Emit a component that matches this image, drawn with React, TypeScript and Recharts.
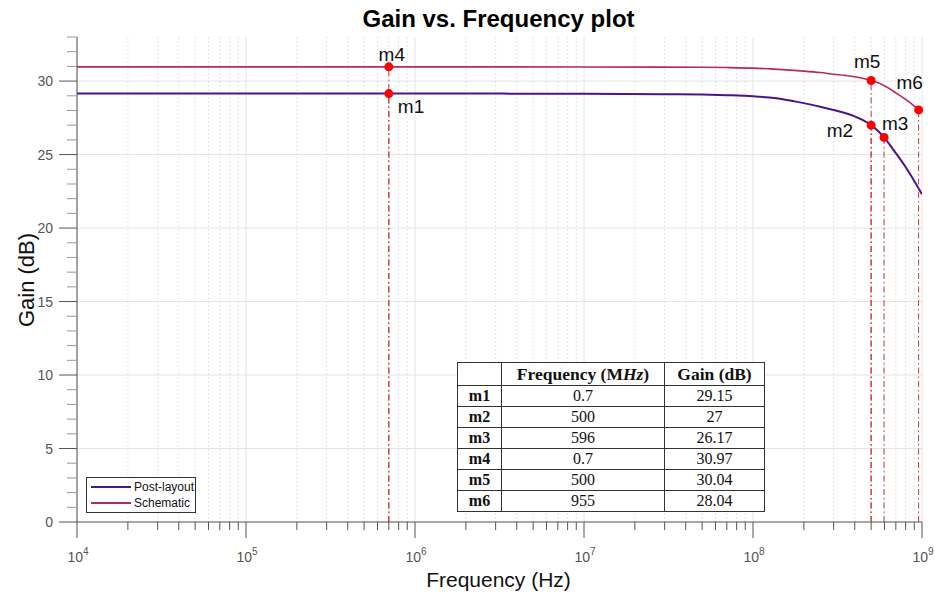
import React from "react";
import {
  CartesianGrid,
  Line,
  LineChart,
  ReferenceDot,
  ReferenceLine,
  XAxis,
  YAxis,
} from "recharts";

// Post-layout gain curve (Hz, dB)
const POST_FREQ = [1e4, 1e5, 7e5, 1e6, 1e7, 3e7, 5e7, 7e7, 1e8, 1.25e8, 1.5e8, 2e8, 2.5e8, 3e8, 3.5e8, 4e8, 4.5e8, 5e8, 5.5e8, 5.96e8, 7e8, 8e8, 9e8, 1e9];
const POST_GAIN = [29.15, 29.15, 29.15, 29.15, 29.14, 29.11, 29.08, 29.04, 28.97, 28.88, 28.77, 28.5, 28.25, 28.03, 27.83, 27.6, 27.32, 27.0, 26.6, 26.17, 25.1, 24.15, 23.2, 22.3];

// Schematic gain curve (Hz, dB)
const SCHEM_FREQ = [1e4, 1e5, 7e5, 1e6, 1e7, 5e7, 7e7, 1e8, 1.25e8, 1.5e8, 2e8, 2.5e8, 3e8, 3.5e8, 4e8, 4.5e8, 5e8, 5.5e8, 6e8, 7e8, 8e8, 9e8, 9.55e8, 1e9];
const SCHEM_GAIN = [30.97, 30.97, 30.97, 30.97, 30.96, 30.94, 30.92, 30.88, 30.83, 30.78, 30.68, 30.58, 30.47, 30.39, 30.3, 30.18, 30.04, 29.88, 29.68, 29.2, 28.75, 28.3, 28.04, 27.83];

// Markers, as listed in the summary table
const MARKER_NAMES = ["m1", "m2", "m3", "m4", "m5", "m6"];
const MARKER_FREQ_MHZ = [0.7, 500, 596, 0.7, 500, 955];
const MARKER_GAIN_DB = [29.15, 27, 26.17, 30.97, 30.04, 28.04];

const X_MAJOR = [1e4, 1e5, 1e6, 1e7, 1e8, 1e9];
const X_MINOR = [1e4, 1e5, 1e6, 1e7, 1e8].flatMap((d) => [2, 3, 4, 5, 6, 7, 8, 9].map((m) => m * d));
const Y_TICKS = Array.from({ length: 34 }, (_, i) => i);
const Y_GRID = [5, 10, 15, 20, 25, 30];

// where each marker's name sits relative to its dot
const LABEL_OFFSETS: Record<string, { dx: number; dy: number; anchor: "start" | "middle" | "end" }> = {
  m1: { dx: 9, dy: 19, anchor: "start" },
  m2: { dx: -18, dy: 12, anchor: "end" },
  m3: { dx: -2, dy: -7, anchor: "start" },
  m4: { dx: 3, dy: -6, anchor: "middle" },
  m5: { dx: -4, dy: -13, anchor: "middle" },
  m6: { dx: -9, dy: -21, anchor: "middle" },
};

const POST_COLOR = "#4a148c";
const SCHEM_COLOR = "#b8285c";
const MARKER_COLOR = "#ff0000";
const GUIDE_COLOR = "#c83a3a";
const SANS = "'Liberation Sans', Arial, sans-serif";
const SERIF = "'Liberation Serif', 'Times New Roman', serif";

const postData = POST_FREQ.map((freq, i) => ({ freq, gain: POST_GAIN[i] }));
const schemData = SCHEM_FREQ.map((freq, i) => ({ freq, gain: SCHEM_GAIN[i] }));
const markers = MARKER_NAMES.map((name, i) => ({
  name,
  freq: MARKER_FREQ_MHZ[i] * 1e6,
  mhz: MARKER_FREQ_MHZ[i],
  gain: MARKER_GAIN_DB[i],
}));

const isDecade = (v: number) => Math.abs(Math.log10(v) - Math.round(Math.log10(v))) < 1e-9;

function FreqTick({ x, y, payload }: any) {
  const v = payload.value as number;
  const major = isDecade(v);
  return (
    <g>
      <line x1={x} x2={x} y1={y} y2={y + (major ? 16 : 8)} stroke="#555" />
      {major && (
        <text x={x + 1} y={y + 40} textAnchor="middle" fill="#555" fontSize={14} fontFamily={SANS}>
          10
          <tspan dy={-7} fontSize={10}>
            {Math.round(Math.log10(v))}
          </tspan>
        </text>
      )}
    </g>
  );
}

function GainTick({ x, y, payload }: any) {
  const v = payload.value as number;
  const major = v % 5 === 0;
  return (
    <g>
      <line x1={x} x2={x - (major ? 18 : 10)} y1={y} y2={y} stroke={major ? "#555" : "#999"} />
      {major && (
        <text x={x - 24} y={y + 5} textAnchor="end" fill="#555" fontSize={14} fontFamily={SANS}>
          {v}
        </text>
      )}
    </g>
  );
}

function markerShape(name: string) {
  const off = LABEL_OFFSETS[name];
  return (p: any) => (
    <g>
      <circle cx={p.cx} cy={p.cy} r={4.5} fill={MARKER_COLOR} />
      <text
        x={p.cx + off.dx}
        y={p.cy + off.dy}
        textAnchor={off.anchor}
        fontSize={19}
        fontFamily={SANS}
        fill="#111"
      >
        {name}
      </text>
    </g>
  );
}

const cell: React.CSSProperties = {
  border: "1px solid #333",
  padding: 0,
  textAlign: "center",
  lineHeight: "20px",
};

function MarkerTable() {
  return (
    <table
      style={{
        position: "absolute",
        left: 457,
        top: 362,
        width: 308,
        borderCollapse: "collapse",
        background: "#fff",
        fontFamily: SERIF,
        fontSize: 16,
        color: "#111",
      }}
    >
      <thead>
        <tr style={{ height: 23, fontSize: 17.5 }}>
          <th style={{ ...cell, width: 43 }}></th>
          <th style={{ ...cell, width: 162 }}>
            Frequency (M<i>Hz</i>)
          </th>
          <th style={cell}>Gain (dB)</th>
        </tr>
      </thead>
      <tbody>
        {markers.map((m) => (
          <tr key={m.name} style={{ height: 21 }}>
            <td style={{ ...cell, fontWeight: "bold" }}>{m.name}</td>
            <td style={cell}>{String(m.mhz)}</td>
            <td style={cell}>{String(m.gain)}</td>
          </tr>
        ))}
      </tbody>
    </table>
  );
}

function SeriesKey() {
  const row = (color: string, label: string) => (
    <div style={{ display: "flex", alignItems: "center", height: 16 }}>
      <div style={{ width: 40, height: 2, background: color, marginRight: 3 }} />
      <span>{label}</span>
    </div>
  );
  return (
    <div
      style={{
        position: "absolute",
        left: 86,
        top: 477,
        width: 104,
        height: 32,
        padding: "1px 0 1px 4px",
        border: "1px solid #333",
        background: "#fff",
        fontFamily: SANS,
        fontSize: 12,
        color: "#111",
      }}
    >
      {row(POST_COLOR, "Post-layout")}
      {row(SCHEM_COLOR, "Schematic")}
    </div>
  );
}

export default function App() {
  return (
    <div style={{ position: "absolute", left: 0, top: 0, width: 935, height: 598, background: "#fff" }}>
      <div
        style={{
          position: "absolute",
          left: 0,
          width: 997,
          top: 5,
          textAlign: "center",
          fontFamily: SANS,
          fontWeight: "bold",
          fontSize: 24,
          color: "#000",
        }}
      >
        Gain vs. Frequency plot
      </div>
      <LineChart width={935} height={598} margin={{ top: 37, right: 13, bottom: 46, left: 17 }}>
        <CartesianGrid horizontal horizontalValues={Y_GRID} vertical={false} stroke="#e4e4e4" />
        <CartesianGrid horizontal={false} vertical verticalValues={X_MAJOR} stroke="#e4e4e4" />
        <CartesianGrid horizontal={false} vertical verticalValues={X_MINOR} stroke="#e4e4e4" strokeDasharray="2 2" />
        <XAxis
          dataKey="freq"
          type="number"
          scale="log"
          domain={[1e4, 1e9]}
          ticks={[...X_MAJOR, ...X_MINOR]}
          interval={0}
          allowDataOverflow
          height={30}
          tickSize={0}
          tickMargin={0}
          tickLine={false}
          axisLine={{ stroke: "#555" }}
          tick={<FreqTick />}
        />
        <YAxis
          type="number"
          domain={[0, 33]}
          ticks={Y_TICKS}
          interval={0}
          width={60}
          tickSize={0}
          tickMargin={0}
          tickLine={false}
          axisLine={{ stroke: "#555" }}
          tick={<GainTick />}
        />
        <Line
          data={schemData}
          dataKey="gain"
          type="monotone"
          stroke={SCHEM_COLOR}
          strokeWidth={1.6}
          dot={false}
          isAnimationActive={false}
        />
        <Line
          data={postData}
          dataKey="gain"
          type="monotone"
          stroke={POST_COLOR}
          strokeWidth={2}
          dot={false}
          isAnimationActive={false}
        />
        {markers.map((m) => (
          <ReferenceLine
            key={`guide-${m.name}`}
            segment={[
              { x: m.freq, y: 0 },
              { x: m.freq, y: m.gain },
            ]}
            stroke={GUIDE_COLOR}
            strokeDasharray="6 3 1.5 3"
          />
        ))}
        {markers.map((m) => (
          <ReferenceDot key={m.name} x={m.freq} y={m.gain} r={4.5} shape={markerShape(m.name)} />
        ))}
      </LineChart>
      <div
        style={{
          position: "absolute",
          left: 0,
          width: 997,
          top: 568,
          textAlign: "center",
          fontFamily: SANS,
          fontSize: 21,
          color: "#111",
        }}
      >
        Frequency (Hz)
      </div>
      <div
        style={{
          position: "absolute",
          left: 27,
          top: 280,
          transform: "translate(-50%, -50%) rotate(-90deg)",
          whiteSpace: "nowrap",
          fontFamily: SANS,
          fontSize: 22,
          color: "#111",
        }}
      >
        Gain (dB)
      </div>
      <MarkerTable />
      <SeriesKey />
    </div>
  );
}
